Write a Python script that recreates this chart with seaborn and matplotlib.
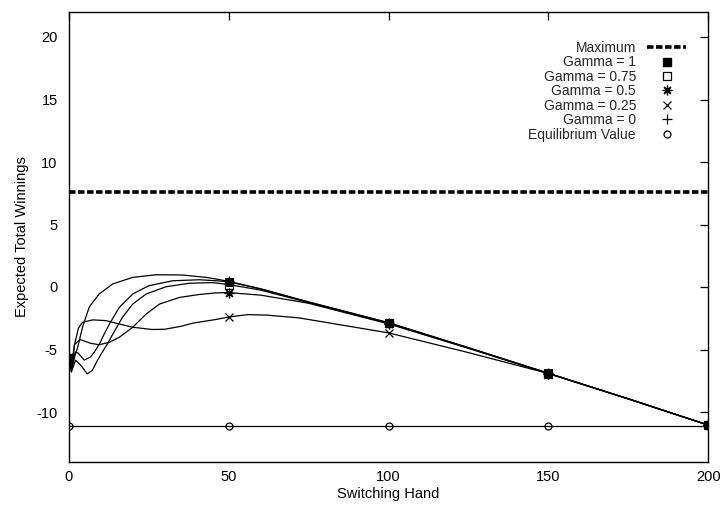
import numpy as np
import pandas as pd
import matplotlib
matplotlib.use("Agg")
import matplotlib.pyplot as plt
from matplotlib.lines import Line2D
import seaborn as sns

# Switching-hand curves for each gamma (x = switching hand, y = expected winnings)
x_g0 = [0, 0.8, 1.8, 2.8, 4.3, 6.4, 9.5, 13.7, 20, 27.3, 35.6, 42.9, 46, 50, 60, 75, 100, 125, 150, 175, 200]
y_g0 = [-5.7, -6.6, -5.6, -4.8, -3.2, -1.6, -0.56, 0.24, 0.77, 0.98, 0.96, 0.77, 0.64, 0.45, -0.15, -1.2, -2.85, -4.85, -6.9, -8.95, -11.05]

x_g1 = [0, 0.8, 2, 3, 4.8, 6.8, 8, 9.5, 11, 12.7, 15.8, 20, 25, 32.5, 40.8, 46, 50, 60, 75, 100, 125, 150, 175, 200]
y_g1 = [-5.7, -6.7, -5.2, -5.3, -5.85, -5.6, -5.2, -4.6, -3.8, -2.96, -1.63, -0.56, 0.1, 0.5, 0.58, 0.5, 0.42, -0.15, -1.2, -2.87, -4.87, -6.9, -8.95, -11.05]

x_g075 = [0, 0.8, 2.1, 3.7, 5.8, 7.4, 8.9, 10.5, 12.2, 13.7, 16.8, 20, 24.2, 30.4, 37.7, 45, 50, 60, 75, 100, 125, 150, 175, 200]
y_g075 = [-5.7, -6.8, -5.85, -6.25, -6.95, -6.65, -5.9, -5.2, -4.5, -3.8, -2.42, -1.36, -0.56, 0.02, 0.3, 0.35, 0.2, -0.25, -1.25, -2.9, -4.9, -6.92, -8.95, -11.05]

x_g05 = [0, 0.8, 1.8, 3.5, 6.8, 9.5, 12.7, 15.8, 20, 24.2, 28.4, 34.7, 40.8, 46, 50, 60, 75, 100, 125, 150, 175, 200]
y_g05 = [-5.7, -6.5, -4.6, -4.2, -4.5, -4.62, -4.42, -4.02, -3.22, -2.16, -1.36, -0.83, -0.6, -0.47, -0.45, -0.65, -1.3, -2.95, -4.9, -6.92, -8.95, -11.05]

x_g025 = [0, 0.8, 1.8, 3, 4.3, 7.5, 11.6, 15.8, 20, 26, 30, 35, 39, 46, 50, 56, 62, 72, 100, 125, 150, 175, 200]
y_g025 = [-5.7, -6.5, -4.6, -3.3, -2.82, -2.63, -2.69, -2.96, -3.22, -3.4, -3.38, -3.15, -2.88, -2.6, -2.4, -2.21, -2.25, -2.47, -3.67, -5.25, -6.92, -8.95, -11.05]

# Hands at which the point symbols are drawn
mark_x = [0, 50, 100, 150, 200]

# Reference levels
max_x = [0, 200]
max_y = [7.6, 7.6]
eq_x = [0, 50, 100, 150, 200]
eq_y = [-11.1, -11.1, -11.1, -11.1, -11.1]

x_ticks = [0, 50, 100, 150, 200]
y_ticks = [-10, -5, 0, 5, 10, 15, 20]

sns.set_theme(style="white")
plt.rcParams["font.family"] = ["Liberation Sans", "DejaVu Sans"]
plt.rcParams["font.size"] = 10

fig = plt.figure(figsize=(7.24, 5.07), dpi=100)
ax = fig.add_axes([68.8 / 724, 1 - 462 / 507, (708.3 - 68.8) / 724, (462 - 12) / 507])

series = [
    ("Gamma = 1", x_g1, y_g1, dict(marker="s", mfc="black", mec="black", ms=6)),
    ("Gamma = 0.75", x_g075, y_g075, dict(marker="s", mfc="none", mec="black", ms=6, mew=0.9)),
    ("Gamma = 0.5", x_g05, y_g05, dict(marker=(8, 2, 0), mec="black", ms=7, mew=0.9)),
    ("Gamma = 0.25", x_g025, y_g025, dict(marker="x", mec="black", ms=6, mew=0.9)),
    ("Gamma = 0", x_g0, y_g0, dict(marker="+", mec="black", ms=7, mew=0.9)),
]

handles = []

# Maximum line
sns.lineplot(x=max_x, y=max_y, ax=ax, color="black", lw=2.6, dashes=False,
             linestyle=(0, (1.8, 0.7)), estimator=None)
handles.append(Line2D([], [], color="black", lw=2.6, linestyle=(0, (1.8, 0.7))))

for label, xs, ys, mk in series:
    df = pd.DataFrame({"hand": xs, "win": ys})
    sns.lineplot(data=df, x="hand", y="win", ax=ax, color="black", lw=0.9,
                 estimator=None)
    pts = df[df["hand"].isin(mark_x)]
    sns.lineplot(data=pts, x="hand", y="win", ax=ax, color="black",
                 linestyle="", estimator=None, **mk)
    handles.append(Line2D([], [], linestyle="", color="black", **mk))

# Equilibrium value
sns.lineplot(x=eq_x, y=eq_y, ax=ax, color="black", lw=0.9, marker="o",
             mfc="none", mec="black", ms=5, mew=0.9, estimator=None)
handles.append(Line2D([], [], linestyle="", marker="o", mfc="none", mec="black",
                      ms=5, mew=0.9))

labels = ["Maximum", "Gamma = 1", "Gamma = 0.75", "Gamma = 0.5",
          "Gamma = 0.25", "Gamma = 0", "Equilibrium Value"]
ax.legend(handles, labels, loc="upper right", markerfirst=False, frameon=False,
          bbox_to_anchor=(686 / 724, 1 - 41 / 507), bbox_transform=fig.transFigure,
          borderaxespad=0, borderpad=0, handlelength=2.8, handletextpad=0.8,
          labelspacing=0.03, fontsize=10)

ax.set_xlim(0, 200)
ax.set_ylim(-14, 22)
ax.set_xticks(x_ticks)
ax.set_yticks(y_ticks)
ax.set_xticklabels([str(v) for v in x_ticks])
ax.set_yticklabels([str(v) for v in y_ticks])
ax.tick_params(direction="in", length=6, width=0.9, colors="black",
               top=True, right=True, labelsize=10.5, pad=8)
ax.tick_params(axis="x", pad=6)
for s in ax.spines.values():
    s.set_color("black")
    s.set_linewidth(1.0)

ax.set_xlabel("Switching Hand", fontsize=10.5, labelpad=2, color="black")
ax.set_ylabel("Expected Total Winnings", fontsize=10.5, labelpad=5, color="black")
ax.grid(False)

fig.savefig("out.png", dpi=100)
